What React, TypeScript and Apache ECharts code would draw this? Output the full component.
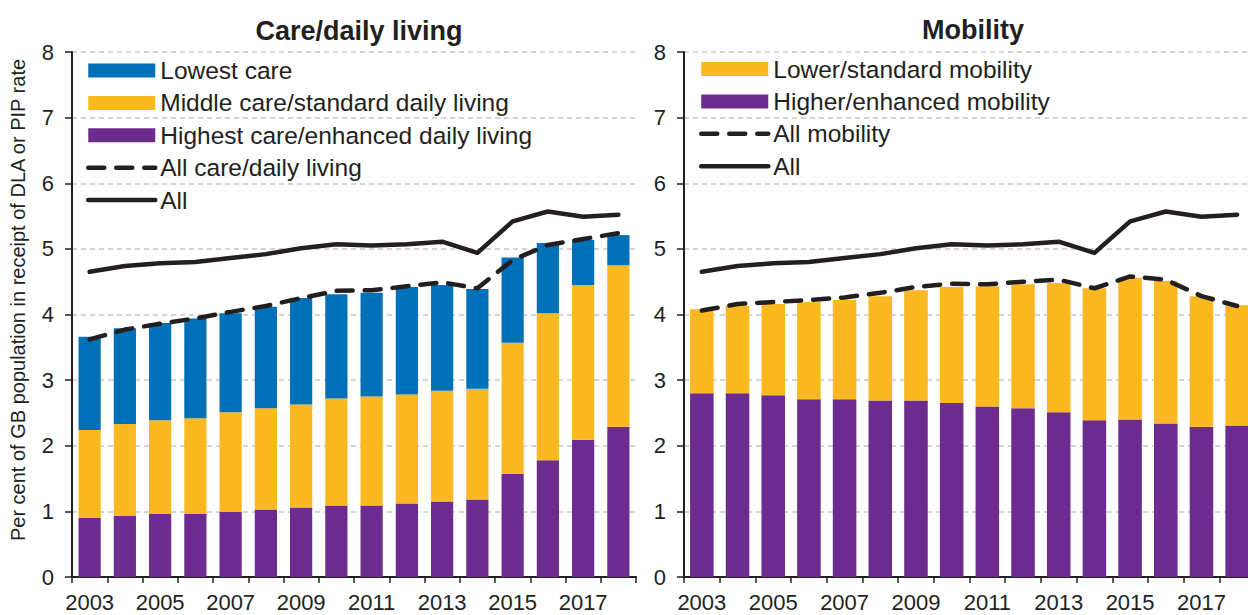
import React, { useEffect, useRef } from "react";
import * as echarts from "echarts";

const years = ["2003","2004","2005","2006","2007","2008","2009","2010","2011","2012","2013","2014","2015","2016","2017","2018"];
const yTicks = { min: 0, max: 8, interval: 1 };

// Care / daily living (stacked components)
const highestCare = [0.90,0.93,0.96,0.96,0.99,1.03,1.06,1.09,1.09,1.12,1.15,1.18,1.57,1.78,2.09,2.29];
const middleCare = [1.34,1.40,1.43,1.46,1.52,1.54,1.57,1.63,1.66,1.66,1.69,1.69,2.00,2.24,2.36,2.46];
const lowestCare = [1.42,1.46,1.48,1.52,1.51,1.55,1.62,1.59,1.58,1.64,1.61,1.52,1.30,1.07,0.69,0.46];
const allCare = [3.62,3.77,3.86,3.94,4.04,4.13,4.25,4.36,4.37,4.43,4.49,4.40,4.83,5.06,5.15,5.24];

// Mobility (stacked components)
const higherMobility = [2.80,2.80,2.77,2.71,2.71,2.69,2.69,2.65,2.60,2.57,2.51,2.39,2.40,2.34,2.29,2.31];
const lowerMobility = [1.28,1.33,1.39,1.48,1.51,1.59,1.68,1.77,1.83,1.89,1.97,2.01,2.16,2.17,1.99,1.83];
const allMobility = [4.06,4.16,4.19,4.22,4.26,4.33,4.42,4.47,4.46,4.50,4.53,4.40,4.58,4.53,4.28,4.13];

// All DLA or PIP
const allRecipients = [4.65,4.74,4.78,4.80,4.86,4.92,5.01,5.07,5.05,5.07,5.11,4.94,5.42,5.57,5.49,5.52];

const BLUE = "#0070B9";
const YELLOW = "#FBB820";
const PURPLE = "#6C2C8F";
const INK = "#231F20";
const FONT = "Liberation Sans";

function makeX(gridIndex: number) {
  return {
    type: "category",
    gridIndex,
    data: years,
    boundaryGap: true,
    axisLine: { show: true, lineStyle: { color: INK, width: 2 } },
    axisTick: { show: true, interval: 0, length: 6, lineStyle: { color: INK, width: 1.5 } },
    axisLabel: { interval: 1, fontSize: 22, margin: 14, color: INK, fontFamily: FONT },
    splitLine: { show: false },
  };
}

function makeY(gridIndex: number, withName: boolean) {
  const y: any = {
    type: "value",
    gridIndex,
    min: yTicks.min,
    max: yTicks.max,
    interval: yTicks.interval,
    axisLine: { show: true, lineStyle: { color: INK, width: 2 } },
    axisTick: { show: true, length: 7, lineStyle: { color: INK, width: 1.5 } },
    axisLabel: { fontSize: 22, margin: 18, color: INK, fontFamily: FONT },
    splitLine: { show: true, lineStyle: { type: [5, 4], color: "#c8c8c8", width: 1.5 } },
  };
  if (withName) {
    y.name = "Per cent of GB population in receipt of DLA or PIP rate";
    y.nameLocation = "middle";
    y.nameGap = 44;
    y.nameTextStyle = { fontSize: 20, color: INK, fontFamily: FONT, padding: [0, 0, 0, 29] };
  }
  return y;
}

const dashed = { color: INK, width: 4.5, type: [16, 12], cap: "round" };
const solid = { color: INK, width: 4.5, cap: "round", join: "round" };
const hiddenSymbol = { color: "rgba(0,0,0,0)", borderWidth: 0, opacity: 0 };

export default function App() {
  const ref = useRef<HTMLDivElement>(null);
  useEffect(() => {
    if (!ref.current) return;
    const chart = echarts.init(ref.current, null, { renderer: "svg" });
    const legendCommon = {
      orient: "vertical", itemWidth: 67, itemHeight: 14, itemGap: 7.4,
      textStyle: { fontSize: 24.5, color: INK, fontFamily: FONT },
      lineStyle: { width: 4.5, cap: "round" },
      selectedMode: false,
    };
    const option: any = {
      animation: false,
      textStyle: { fontFamily: FONT, color: INK },
      title: [
        { text: "Care/daily living", left: 354, top: 12, textAlign: "center",
          textStyle: { fontSize: 27, fontWeight: "bold", color: INK, fontFamily: FONT } },
        { text: "Mobility", left: 968, top: 11, textAlign: "center",
          textStyle: { fontSize: 27, fontWeight: "bold", color: INK, fontFamily: FONT } },
      ],
      legend: [
        {
          ...legendCommon, left: 81, top: 53,
          data: [
            { name: "Lowest care", icon: "rect" },
            { name: "Middle care/standard daily living", icon: "rect" },
            { name: "Highest care/enhanced daily living", icon: "rect" },
            { name: "All care/daily living", itemStyle: hiddenSymbol },
            { name: "All", itemStyle: hiddenSymbol },
          ],
        },
        {
          ...legendCommon, left: 694, top: 51.5,
          data: [
            { name: "Lower/standard mobility", icon: "rect" },
            { name: "Higher/enhanced mobility", icon: "rect" },
            { name: "All mobility", itemStyle: hiddenSymbol },
            { name: "All", itemStyle: hiddenSymbol },
          ],
        },
      ],
      grid: [
        { left: 72, top: 52, width: 564, height: 525, outerBoundsMode: "none", containLabel: false },
        { left: 684, top: 52, width: 571, height: 525, outerBoundsMode: "none", containLabel: false },
      ],
      xAxis: [makeX(0), makeX(1)],
      yAxis: [makeY(0, true), makeY(1, false)],
      series: [
        { type: "bar", barCategoryGap: "37%", name: "Highest care/enhanced daily living", xAxisIndex: 0, yAxisIndex: 0, stack: "care", data: highestCare, itemStyle: { color: PURPLE } },
        { type: "bar", barCategoryGap: "37%", name: "Middle care/standard daily living", xAxisIndex: 0, yAxisIndex: 0, stack: "care", data: middleCare, itemStyle: { color: YELLOW } },
        { type: "bar", barCategoryGap: "37%", name: "Lowest care", xAxisIndex: 0, yAxisIndex: 0, stack: "care", data: lowestCare, itemStyle: { color: BLUE } },
        { type: "line", name: "All care/daily living", xAxisIndex: 0, yAxisIndex: 0, data: allCare, symbol: "none", lineStyle: dashed, itemStyle: { color: INK }, z: 5 },
        { type: "line", name: "All", xAxisIndex: 0, yAxisIndex: 0, data: allRecipients, symbol: "none", lineStyle: solid, itemStyle: { color: INK }, z: 5 },

        { type: "bar", barCategoryGap: "34%", name: "Higher/enhanced mobility", xAxisIndex: 1, yAxisIndex: 1, stack: "mob", data: higherMobility, itemStyle: { color: PURPLE } },
        { type: "bar", barCategoryGap: "34%", name: "Lower/standard mobility", xAxisIndex: 1, yAxisIndex: 1, stack: "mob", data: lowerMobility, itemStyle: { color: YELLOW } },
        { type: "line", name: "All mobility", xAxisIndex: 1, yAxisIndex: 1, data: allMobility, symbol: "none", lineStyle: dashed, itemStyle: { color: INK }, z: 5 },
        { type: "line", name: "All", xAxisIndex: 1, yAxisIndex: 1, data: allRecipients, symbol: "none", lineStyle: solid, itemStyle: { color: INK }, z: 5 },
      ],
    };
    chart.setOption(option);
    return () => chart.dispose();
  }, []);
  return (
    <div
      ref={ref}
      style={{ position: "fixed", left: 0, top: 0, width: 1248, height: 615, background: "#fff" }}
    />
  );
}
